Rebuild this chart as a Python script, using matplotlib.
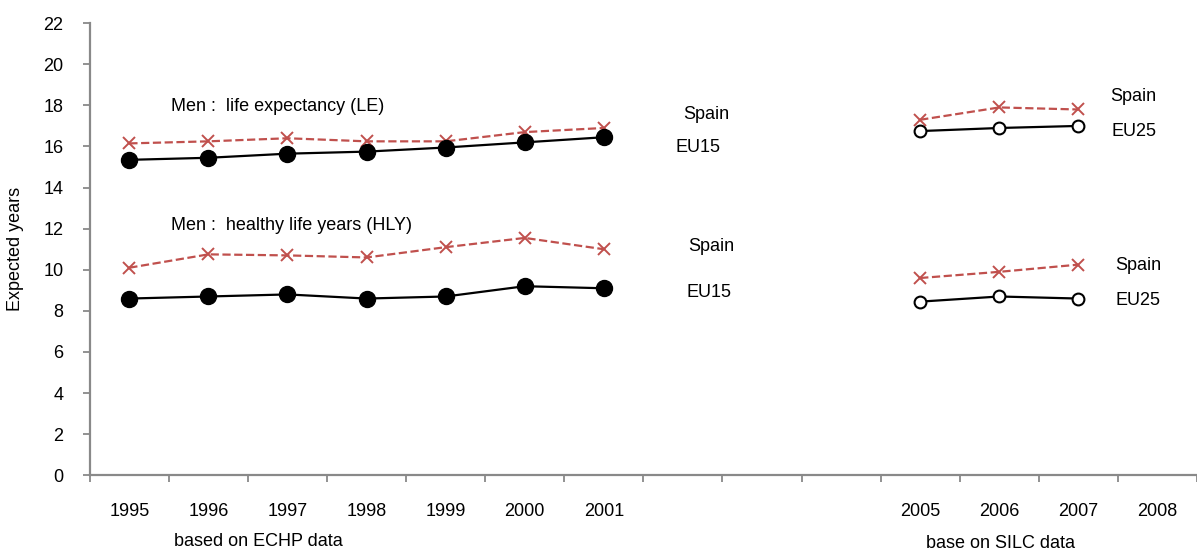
import numpy as np
import matplotlib.pyplot as plt

plt.rcParams['font.family'] = ['Liberation Sans Narrow', 'Liberation Sans', 'DejaVu Sans']

# category labels on the x axis (three empty slots between the two surveys)
categories = ['1995', '1996', '1997', '1998', '1999', '2000', '2001',
              '', '', '', '2005', '2006', '2007', '2008']

# ECHP period (1995-2001)
le_eu15 = [15.35, 15.45, 15.65, 15.75, 15.95, 16.2, 16.45]
le_spain_echp = [16.15, 16.25, 16.4, 16.25, 16.25, 16.7, 16.9]
hly_eu15 = [8.6, 8.7, 8.8, 8.6, 8.7, 9.2, 9.1]
hly_spain_echp = [10.1, 10.75, 10.7, 10.6, 11.1, 11.55, 11.0]

# SILC period (2005-2007)
le_eu25 = [16.75, 16.9, 17.0]
le_spain_silc = [17.3, 17.9, 17.8]
hly_eu25 = [8.45, 8.7, 8.6]
hly_spain_silc = [9.6, 9.9, 10.25]

red = '#C0504D'
grey = '#898989'

x_echp = np.arange(7)
x_silc = np.arange(10, 13)

fig = plt.figure(figsize=(11.97, 5.52), dpi=100)
ax = fig.add_axes([0.075, 0.139, 0.925, 0.819])

# Spain dashed red, EU solid black
ax.plot(x_echp, le_spain_echp, '--', color=red, lw=1.6, marker='x', ms=8, mew=1.4)
ax.plot(x_echp, le_eu15, '-', color='black', lw=1.6, marker='o', ms=11.5)
ax.plot(x_echp, hly_spain_echp, '--', color=red, lw=1.6, marker='x', ms=8, mew=1.4)
ax.plot(x_echp, hly_eu15, '-', color='black', lw=1.6, marker='o', ms=11.5)

ax.plot(x_silc, le_spain_silc, '--', color=red, lw=1.6, marker='x', ms=8, mew=1.4)
ax.plot(x_silc, le_eu25, '-', color='black', lw=1.6, marker='o', ms=8.5,
        mfc='white', mew=1.5)
ax.plot(x_silc, hly_spain_silc, '--', color=red, lw=1.6, marker='x', ms=8, mew=1.4)
ax.plot(x_silc, hly_eu25, '-', color='black', lw=1.6, marker='o', ms=8.5,
        mfc='white', mew=1.5)

ax.set_xlim(-0.5, len(categories) - 0.5)
ax.set_ylim(0, 22)
ax.set_yticks(range(0, 23, 2))

# ticks between categories, labels at centres
ax.set_xticks(np.arange(len(categories) + 1) - 0.5)
ax.set_xticklabels([])
ax.set_xticks(np.arange(len(categories)), minor=True)
ax.set_xticklabels(categories, minor=True)
ax.tick_params(axis='x', which='minor', length=0, pad=20, labelsize=13)
ax.tick_params(axis='x', which='major', length=5, color=grey, width=1.3)
ax.tick_params(axis='y', length=5, color=grey, width=1.3, labelsize=13, pad=14)

for s in ['top', 'right']:
    ax.spines[s].set_visible(False)
for s in ['left', 'bottom']:
    ax.spines[s].set_color(grey)
    ax.spines[s].set_linewidth(1.6)

ax.set_ylabel('Expected years', fontsize=13, labelpad=14)

# annotations
ax.text(0.53, 17.95, 'Men :  life expectancy (LE)', fontsize=13, va='center')
ax.text(0.53, 12.15, 'Men :  healthy life years (HLY)', fontsize=13, va='center')
ax.text(7.0, 17.55, 'Spain', fontsize=13, va='center')
ax.text(6.9, 15.95, 'EU15', fontsize=13, va='center')
ax.text(7.07, 11.15, 'Spain', fontsize=13, va='center')
ax.text(7.05, 8.9, 'EU15', fontsize=13, va='center')
ax.text(12.4, 18.45, 'Spain', fontsize=13, va='center')
ax.text(12.42, 16.75, 'EU25', fontsize=13, va='center')
ax.text(12.47, 10.2, 'Spain', fontsize=13, va='center')
ax.text(12.47, 8.5, 'EU25', fontsize=13, va='center')

fig.text(258 / 1197, 1 - 541 / 552, 'based on ECHP data', fontsize=13,
         ha='center', va='center')
fig.text(1000 / 1197, 1 - 543 / 552, 'base on SILC data', fontsize=13,
         ha='center', va='center')

fig.savefig('out.png', dpi=100)
